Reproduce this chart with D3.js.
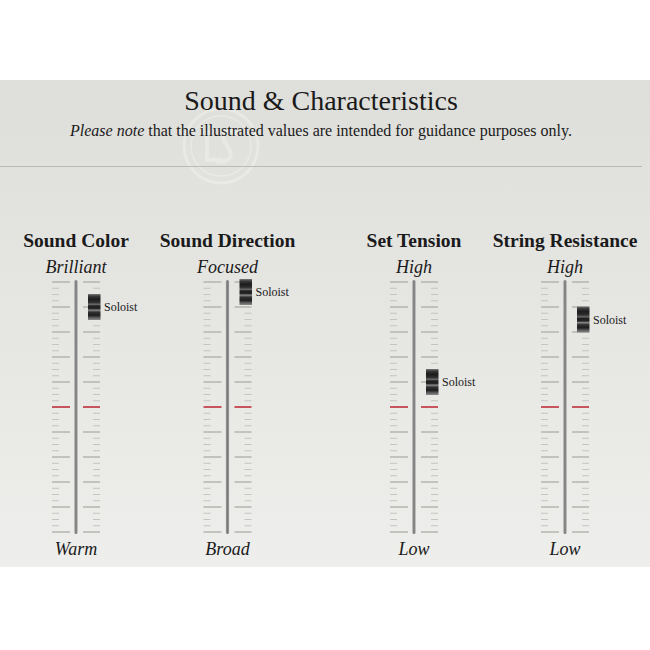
<!DOCTYPE html>
<html>
<head>
<meta charset="utf-8">
<script src="https://cdn.jsdelivr.net/npm/d3@7/dist/d3.min.js"></script>
<style>
  html, body { margin: 0; padding: 0; background: #ffffff; }
  svg { display: block; }
</style>
</head>
<body>
<script>
// ---- data ----
const titles = ["Sound Color", "Sound Direction", "Set Tension", "String Resistance"];
const topLabels = ["Brilliant", "Focused", "High", "High"];
const bottomLabels = ["Warm", "Broad", "Low", "Low"];
const values = [9.0, 9.6, 6.0, 8.5];
const seriesName = "Soloist";
const chartTitle = "Sound & Characteristics";
const noteItalic = "Please note";
const noteRest = " that the illustrated values are intended for guidance purposes only.";
const scaleMin = 0, scaleMax = 10, referenceValue = 5, tickStep = 0.25;

// ---- layout ----
const W = 650, H = 650;
const serif = "'Liberation Serif', 'DejaVu Serif', serif";
const svg = d3.select("body").append("svg").attr("width", W).attr("height", H);
const defs = svg.append("defs");

const bg = defs.append("linearGradient").attr("id", "bg").attr("x1", 0).attr("y1", 0).attr("x2", 0).attr("y2", 1);
bg.append("stop").attr("offset", 0).attr("stop-color", "#dededa");
bg.append("stop").attr("offset", 1).attr("stop-color", "#eeeeec");

const knobG = defs.append("linearGradient").attr("id", "knob").attr("x1", 0).attr("y1", 0).attr("x2", 0).attr("y2", 1);
[[0, "#7a7a7a"], [0.08, "#3a3a3a"], [0.2, "#1c1c1c"], [0.32, "#2e2e2e"], [0.4, "#6a6a6a"], [0.46, "#1e1e1e"],
 [0.56, "#262626"], [0.62, "#8a8a8a"], [0.7, "#303030"], [0.82, "#1e1e1e"], [0.9, "#555"], [1, "#8c8c8c"]]
  .forEach(([o, c]) => knobG.append("stop").attr("offset", o).attr("stop-color", c));

const barG = defs.append("linearGradient").attr("id", "bar").attr("x1", 0).attr("y1", 0).attr("x2", 1).attr("y2", 0);
barG.append("stop").attr("offset", 0).attr("stop-color", "#9a9a9a");
barG.append("stop").attr("offset", 0.5).attr("stop-color", "#7a7a7a");
barG.append("stop").attr("offset", 1).attr("stop-color", "#a0a0a0");

// panel
svg.append("rect").attr("x", 0).attr("y", 80).attr("width", W).attr("height", 487).attr("fill", "url(#bg)");

// watermark (faint emblem)
const wm = svg.append("g").attr("transform", "translate(221,146)").attr("opacity", 0.28)
  .attr("fill", "none").attr("stroke", "#ffffff");
wm.append("circle").attr("r", 37).attr("stroke-width", 3);
wm.append("circle").attr("r", 30).attr("stroke-width", 1.5);
wm.append("path").attr("d", "M-14,-16 L-14,14 L2,14").attr("stroke-width", 4);
wm.append("path").attr("d", "M16,-12 C8,-20 -2,-14 4,-4 C10,6 14,12 2,16 C-2,17 -6,15 -8,12").attr("stroke-width", 4);

// separator
svg.append("line").attr("x1", 0).attr("x2", 642).attr("y1", 166.5).attr("y2", 166.5)
  .attr("stroke", "#b9b9b5").attr("stroke-width", 1);

// title
svg.append("text").attr("x", 321).attr("y", 110).attr("text-anchor", "middle")
  .attr("font-family", serif).attr("font-size", 28).attr("fill", "#1a1a1a").text(chartTitle);
const note = svg.append("text").attr("x", 321).attr("y", 135.5).attr("text-anchor", "middle")
  .attr("font-family", serif).attr("font-size", 16).attr("fill", "#1a1a1a");
note.append("tspan").attr("font-style", "italic").text(noteItalic);
note.append("tspan").text(noteRest);

// scales
const xPos = d3.scaleOrdinal().domain(titles).range([76, 227.5, 414, 565]);
const y = d3.scaleLinear().domain([scaleMin, scaleMax]).range([532, 282]);
const ticks = d3.range(scaleMin, scaleMax + tickStep / 2, tickStep);

titles.forEach((t, i) => {
  const cx = xPos(t);
  const g = svg.append("g").attr("transform", `translate(${cx},0)`);

  g.append("text").attr("x", 0).attr("y", 246.5).attr("text-anchor", "middle")
    .attr("font-family", serif).attr("font-weight", "bold").attr("font-size", 19.5)
    .attr("fill", "#1a1a1a").text(t);
  g.append("text").attr("x", 0).attr("y", 272.5).attr("text-anchor", "middle")
    .attr("font-family", serif).attr("font-style", "italic").attr("font-size", 18)
    .attr("fill", "#1a1a1a").text(topLabels[i]);
  g.append("text").attr("x", 0).attr("y", 555).attr("text-anchor", "middle")
    .attr("font-family", serif).attr("font-style", "italic").attr("font-size", 18)
    .attr("fill", "#1a1a1a").text(bottomLabels[i]);

  // ticks
  ticks.forEach(v => {
    const major = Math.abs(v - Math.round(v)) < 1e-6;
    const isRef = Math.abs(v - referenceValue) < 1e-6;
    const color = isRef ? "#c8545e" : (major ? "#b0b0ad" : "#c4c4c1");
    const sw = isRef ? 2 : (major ? 1.4 : 1);
    const yy = y(v);
    g.append("line").attr("x1", -24).attr("x2", major ? -6 : -17).attr("y1", yy).attr("y2", yy)
      .attr("stroke", color).attr("stroke-width", sw);
    g.append("line").attr("x1", major ? 7 : 17).attr("x2", 24).attr("y1", yy).attr("y2", yy)
      .attr("stroke", color).attr("stroke-width", sw);
  });

  // bar
  g.append("rect").attr("x", -1.6).attr("y", 280).attr("width", 3.2).attr("height", 254)
    .attr("rx", 1.6).attr("fill", "url(#bar)");

  // knob
  const ky = y(values[i]);
  g.append("rect").attr("x", 12).attr("y", ky - 13).attr("width", 12.5).attr("height", 26)
    .attr("fill", "url(#knob)");
  g.append("text").attr("x", 28).attr("y", ky + 4).attr("font-family", serif)
    .attr("font-size", 12).attr("fill", "#1a1a1a").text(seriesName);
});
</script>
</body>
</html>
